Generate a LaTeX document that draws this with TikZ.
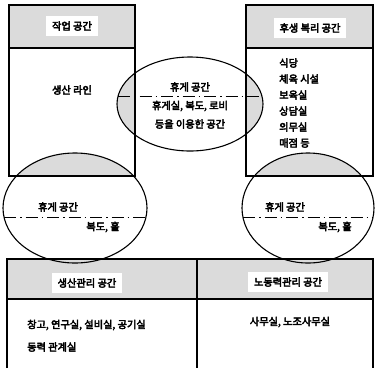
\documentclass[tikz,border=0pt]{standalone}
\usepackage{fontspec}
\setmainfont{Noto Sans CJK KR}
\newfontfamily\krb{Noto Sans CJK KR}[FakeBold=4]
\begin{document}
\begin{tikzpicture}[x=1pt,y=-1pt,
  txt/.style={font=\krb\fontsize{10.2}{12}\selectfont, inner sep=1pt},
  lbl/.style={txt, fill=white, inner xsep=6pt, inner ysep=5pt},
  boxline/.style={line width=1.3pt},
  hdr/.style={fill=gray!28},
  shade/.style={fill=gray!28},
  dashdot/.style={line width=1pt, dash pattern=on 12pt off 4pt on 1.5pt off 4pt},
  ell/.style={line width=1.1pt}]
\useasboundingbox (0,0) rectangle (375,368);
% headers
\fill[hdr] (9,5) rectangle (135,48);
\fill[hdr] (246,5) rectangle (373,48);
\fill[hdr] (7,259) rectangle (373,299);
% shaded intersections
\begin{scope}
  \clip (190,104) ellipse [x radius=73, y radius=47];
  \fill[shade] (9,48) rectangle (135,176);
  \fill[shade] (246,48) rectangle (373,176);
\end{scope}
\begin{scope}
  \clip (75,208) ellipse [x radius=72, y radius=55];
  \fill[shade] (9,48) rectangle (135,176);
\end{scope}
\begin{scope}
  \clip (308,208) ellipse [x radius=66, y radius=55];
  \fill[shade] (246,48) rectangle (373,176);
\end{scope}
% boxes
\draw[boxline] (9,5) rectangle (135,176);
\draw[boxline] (9,48) -- (135,48);
\draw[boxline] (246,5) rectangle (373,176);
\draw[boxline] (246,48) -- (373,48);
\draw[boxline] (7,368) -- (7,259) -- (373,259) -- (373,368);
\draw[boxline] (7,299) -- (373,299);
\draw[boxline] (197,259) -- (197,368);
% ellipses
\draw[ell] (190,104) ellipse [x radius=73, y radius=47];
\draw[ell] (75,208) ellipse [x radius=72, y radius=55];
\draw[ell] (308,208) ellipse [x radius=66, y radius=55];
% dash-dot lines
\coordinate (m1) at (118,96); \coordinate (m2) at (262,96);
\coordinate (l1) at (4,217); \coordinate (l2) at (146,217);
\coordinate (r1) at (243,217); \coordinate (r2) at (373,217);
\draw[dashdot] (m1) -- (m2);
\draw[dashdot] (l1) -- (l2);
\draw[dashdot] (r1) -- (r2);
% header labels
\node[lbl] (h1) at (72,26) {작업 공간};
\node[lbl] (h2) at (310,28) {후생 복리 공간};
\node[lbl] (h3) at (87,283) {생산관리 공간};
\node[lbl] (h4) at (288,282) {노동력관리 공간};
% box texts
\node[txt] (t1) at (72,90) {생산 라인};
\node[txt, anchor=west] (w1) at (278,63) {식당};
\node[txt, anchor=west] (w2) at (278,79) {체육 시설};
\node[txt, anchor=west] (w3) at (278,95) {보육실};
\node[txt, anchor=west] (w4) at (278,111) {상담실};
\node[txt, anchor=west] (w5) at (278,127) {의무실};
\node[txt, anchor=west] (w6) at (278,143) {매점 등};
\node[txt, anchor=west] (b1) at (26,325) {창고, 연구실, 설비실, 공기실};
\node[txt, anchor=west] (b2) at (26,347) {동력 관계실};
\node[txt] (b3) at (290,322) {사무실, 노조사무실};
% ellipse texts
\node[txt] (e1) at (190,87) {휴게 공간};
\node[txt] (e2) at (190,106) {휴게실, 복도, 로비};
\node[txt] (e3) at (190,124) {등을 이용한 공간};
\node[txt] (e4) at (58,207) {휴게 공간};
\node[txt] (e5) at (103,227) {복도, 홀};
\node[txt] (e6) at (285,207) {휴게 공간};
\node[txt] (e7) at (335,227) {복도, 홀};
\end{tikzpicture}
\end{document}
